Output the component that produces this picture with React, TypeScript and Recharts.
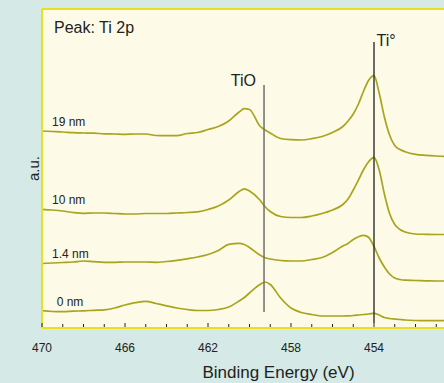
import React from 'react';
import { LineChart, Line, XAxis, YAxis, ReferenceLine, CartesianGrid } from 'recharts';

// Binding energy grid (eV)
const ENERGY = [
  470, 469.5, 469, 468.5, 468, 467.5, 467, 466.5, 466, 465.5, 465, 464.5, 464, 463.5, 463, 462.5,
  462, 461.5, 461, 460.5, 460.25, 460, 459.5, 459.25, 459, 458.5, 458, 457.5, 457, 456.5, 456,
  455.5, 455.25, 455, 454.75, 454.5, 454.25, 454, 453.75, 453.5, 453.25, 453, 452.75, 452.5, 452,
  451.5, 451, 450.5, 450,
];

// Intensities (a.u., stacked offsets)
const NM19 = [
  197, 196.5, 196, 195.3, 195, 194.8, 194.2, 194, 193.7, 194, 194, 192.5, 192.3, 192.3, 194.5, 195.5,
  198.5, 201.5, 207, 216, 219.3, 218.5, 202, 198, 195, 189.5, 188.3, 188, 189.3, 191.5, 195.5,
  201.5, 207, 214, 224, 237, 248, 252.3, 235, 211, 193, 182.5, 178.5, 176.3, 173.7,
  172.7, 172, 171.5, 171.3,
];
const NM10 = [
  118.7, 118, 117, 115.5, 114.7, 115, 115, 114.5, 114, 114, 114.5, 114.5, 114.5, 115, 115.5, 116.2,
  118.5, 122, 128, 136.5, 139.2, 137, 128, 121.3, 116.5, 111.5, 110.5, 110.5, 112, 114.5, 118,
  123.5, 129, 138, 148, 158.5, 166.5, 170.7, 158, 134, 114.5, 103.5, 98.5, 96, 94,
  93.7, 93.5, 93.5, 93.5,
];
const NM1_4 = [
  64.5, 65, 65.5, 66, 67, 66.3, 65.7, 65.7, 66, 66, 66, 65.7, 66.5, 67.7, 69.2, 71,
  73.5, 77.5, 83.7, 84.7, 83.5, 80.5, 73, 70.3, 69, 67.5, 67, 67, 68.5, 70.5, 75.5,
  82, 84.5, 88.5, 91.2, 92.7, 90.5, 81.5, 70, 61, 54, 50, 48.5, 47.8, 47.5,
  47.2, 47, 47, 47,
];
const NM0 = [
  17.3, 16.5, 16.3, 16.8, 17.2, 17.7, 18.2, 20, 23, 25.3, 26.7, 24.5, 22.2, 20, 18.5, 17.5,
  17.5, 18.5, 21, 27, 30.5, 35, 43.5, 46, 43.5, 30, 20, 15.5, 13.5, 12, 12,
  12, 12.2, 12.5, 13, 13.5, 14, 14.7, 13, 10.5, 9.5, 9, 8.5, 8, 7.5,
  7.3, 7.3, 7.3, 7.3,
];

const SERIES_KEYS = ['nm19', 'nm10', 'nm1_4', 'nm0'];
const SERIES_NAMES = ['19 nm', '10 nm', '1.4 nm', '0 nm'];
const SERIES_VALUES = [NM19, NM10, NM1_4, NM0];

const X_TICKS = [470, 469, 468, 467, 466, 465, 464, 463, 462, 461, 460, 459, 458, 457, 456, 455, 454, 453, 452, 451];
const X_LABELED = [470, 466, 462, 458, 454];

const TIO_ENERGY = 459.3;
const TI_ENERGY = 454;
const TIO_SPAN = [16, 243];
const TI_SPAN = [5, 286];
const Y_MAX = 319;

const data = ENERGY.map((e, i) => {
  const row: Record<string, number> = { energy: e };
  SERIES_KEYS.forEach((k, s) => {
    row[k] = SERIES_VALUES[s][i];
  });
  return row;
});

// styling
const BG = '#d5e9e6';
const PLOT_BG = '#fdfbe7';
const YELLOW = '#e8e020';
const CURVE = '#a8a41e';
const FONT = '"Liberation Sans", Arial, Helvetica, sans-serif';
const LABEL_OFFSETS = [
  { dx: 10, dy: -5 },
  { dx: 10, dy: -5.3 },
  { dx: 10, dy: -5.5 },
  { dx: 14.7, dy: -4.7 },
];

const XTick = (props: any) => {
  const { x, y, payload } = props;
  const v = payload.value;
  const major = X_LABELED.includes(v);
  return (
    <g>
      <line x1={x} x2={x} y1={y - 1} y2={y - (major ? 5 : 4)} stroke="#222" strokeWidth={1} />
      {major && (
        <text x={x} y={y + 24} textAnchor="middle" fontSize={12} fill="#222" fontFamily={FONT}>
          {v}
        </text>
      )}
    </g>
  );
};

const makeSeriesLabel = (s: number) => (props: any) => {
  const { x, y, index } = props;
  if (index !== 0) return null;
  return (
    <text
      key={`lbl-${s}`}
      x={x + LABEL_OFFSETS[s].dx}
      y={y + LABEL_OFFSETS[s].dy}
      fontSize={12}
      fill="#222"
      fontFamily={FONT}
    >
      {SERIES_NAMES[s]}
    </text>
  );
};

export default function App() {
  return (
    <div
      style={{
        position: 'absolute',
        left: 0,
        top: 0,
        width: 444,
        height: 383,
        overflow: 'hidden',
        background: BG,
        fontFamily: FONT,
      }}
    >
      <LineChart width={457} height={383} data={data} margin={{ top: 9, right: 0, bottom: 0, left: 0 }}>
        <CartesianGrid fill={PLOT_BG} horizontal={false} vertical={false} stroke="none" />
        <XAxis
          dataKey="energy"
          type="number"
          domain={[450, 470]}
          reversed
          allowDataOverflow
          ticks={X_TICKS}
          interval={0}
          height={55}
          tickSize={0}
          tickMargin={0}
          tickLine={false}
          axisLine={{ stroke: YELLOW, strokeWidth: 2 }}
          tick={<XTick />}
          label={{
            value: 'Binding Energy (eV)',
            position: 'insideBottom',
            offset: 5,
            dx: 29,
            fontSize: 17,
            fill: '#222',
            fontFamily: FONT,
          }}
        />
        <YAxis
          type="number"
          domain={[0, Y_MAX]}
          width={42}
          tick={false}
          tickLine={false}
          axisLine={{ stroke: YELLOW, strokeWidth: 2 }}
          label={{
            value: 'a.u.',
            angle: -90,
            position: 'center',
            dx: 13,
            fontSize: 15,
            fill: '#222',
            fontFamily: FONT,
          }}
        />
        <ReferenceLine y={Y_MAX} stroke={YELLOW} strokeWidth={2} ifOverflow="visible" />
        {SERIES_KEYS.map((k, s) => (
          <Line
            key={k}
            dataKey={k}
            type="monotone"
            stroke={CURVE}
            strokeWidth={1.7}
            dot={false}
            isAnimationActive={false}
            label={makeSeriesLabel(s)}
          />
        ))}
        <ReferenceLine
          segment={[
            { x: TIO_ENERGY, y: TIO_SPAN[0] },
            { x: TIO_ENERGY, y: TIO_SPAN[1] },
          ]}
          stroke="#6e6e6e"
          strokeWidth={1.5}
          label={(p: any) => (
            <text x={p.viewBox.x - 8} y={p.viewBox.y + 1} textAnchor="end" fontSize={16} fill="#222" fontFamily={FONT}>
              TiO
            </text>
          )}
        />
        <ReferenceLine
          segment={[
            { x: TI_ENERGY, y: TI_SPAN[0] },
            { x: TI_ENERGY, y: TI_SPAN[1] },
          ]}
          stroke="#1e1e1e"
          strokeWidth={1.3}
          label={(p: any) => (
            <text x={p.viewBox.x + 2.5} y={p.viewBox.y + 4} fontSize={16} fill="#222" fontFamily={FONT}>
              Ti°
            </text>
          )}
        />
        <text x={54} y={33} fontSize={16} fill="#222" fontFamily={FONT}>
          Peak: Ti 2p
        </text>
      </LineChart>
    </div>
  );
}
